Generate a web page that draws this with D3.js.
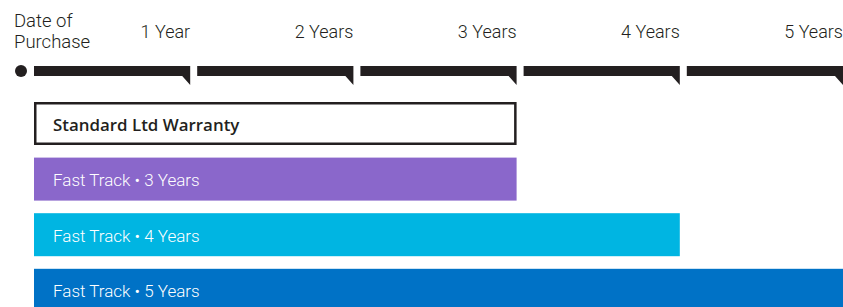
<!DOCTYPE html>
<html><head><meta charset="utf-8">
<script src="https://cdn.jsdelivr.net/npm/d3@7"></script>
<style>body{margin:0;background:#fff}svg{display:block}</style>
</head><body>
<script>
const years = [1, 2, 3, 4, 5];
const yearLabels = ["1 Year", "2 Years", "3 Years", "4 Years", "5 Years"];
const startLabel = ["Date of", "Purchase"];
const plans = ["Standard Ltd Warranty", "Fast Track • 3 Years", "Fast Track • 4 Years", "Fast Track • 5 Years"];
const planYears = [3, 3, 4, 5];
const planFills = ["#ffffff", "#8a67cb", "#00b5e2", "#0072c6"];
const planText = ["#231f20", "#ffffff", "#ffffff", "#ffffff"];

const W = 843, H = 307, ink = "#231f20";
const svg = d3.select("body").append("svg").attr("width", W).attr("height", H);
const x = d3.scaleLinear().domain([0, 5]).range([27, 843]);
const y = d3.scaleBand().domain(plans).range([102, 102 + 55.6 * 3 + 43]).paddingInner(12.6 / 55.6).paddingOuter(0);
const gap = 7, barTop = 66, barBot = 76, notch = 85, notchW = 8;

// start dot
svg.append("circle").attr("cx", 21).attr("cy", 71).attr("r", 6).attr("fill", ink);

// timeline segments
svg.selectAll("path.seg").data(years).join("path").attr("class", "seg")
  .attr("fill", ink)
  .attr("d", d => {
    const x0 = x(d - 1) + gap, x1 = x(d);
    return `M${x0},${barTop}H${x1}V${notch}L${x1 - notchW},${barBot}H${x0}Z`;
  });

// year labels
svg.selectAll("text.yr").data(years).join("text").attr("class", "yr")
  .attr("x", d => x(d)).attr("y", 38).attr("text-anchor", "end")
  .attr("font-family", "Roboto").attr("font-weight", 300).attr("font-size", 18)
  .attr("fill", ink).text((d, i) => yearLabels[i]);

svg.append("text").attr("x", 14).attr("y", 27)
  .attr("font-family", "Roboto").attr("font-weight", 300).attr("font-size", 18.5).attr("fill", ink)
  .selectAll("tspan").data(startLabel).join("tspan")
  .attr("x", 14).attr("dy", (d, i) => i ? 21 : 0).text(d => d);

// plan bars
const x0 = x(0) + gap;
const g = svg.selectAll("g.plan").data(plans).join("g").attr("class", "plan");
g.append("rect")
  .attr("x", (d, i) => i === 0 ? x0 + 1.25 : x0)
  .attr("y", (d, i) => i === 0 ? y(d) + 1.25 : y(d))
  .attr("width", (d, i) => x(planYears[i]) - x0 - (i === 0 ? 2.5 : 0))
  .attr("height", (d, i) => y.bandwidth() - (i === 0 ? 2.5 : 0))
  .attr("fill", (d, i) => planFills[i])
  .attr("stroke", (d, i) => i === 0 ? ink : "none")
  .attr("stroke-width", 2.5);
g.append("text")
  .attr("x", 53).attr("y", d => y(d) + y.bandwidth() / 2 + 7)
  .attr("font-family", (d, i) => i === 0 ? "Open Sans" : "Roboto")
  .attr("font-size", (d, i) => i === 0 ? 16.9 : 17)
  .attr("font-weight", (d, i) => i === 0 ? 600 : 300)
  .attr("fill", (d, i) => planText[i]).text(d => d);
</script>
</body></html>
